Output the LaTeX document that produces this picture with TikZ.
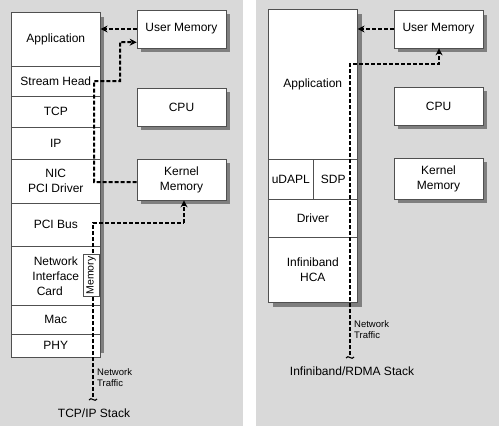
\documentclass[tikz,border=0pt]{standalone}
\usepackage{fontspec}
\setmainfont{Liberation Sans}
\usetikzlibrary{calc,arrows.meta}
\definecolor{panelc}{HTML}{D9D9D9}
\definecolor{shadc}{HTML}{7F7F7F}
\definecolor{edgec}{HTML}{505050}
\tikzset{
  row/.style={draw=edgec, fill=white, line width=0.6pt, inner sep=0pt, anchor=north west,
    minimum width=89pt, align=center, font=\fontsize{12}{15}\selectfont},
  box/.style={row, anchor=center},
  conn/.style={draw=black, line width=2pt, dash pattern=on 4pt off 2pt,
    -{Stealth[length=7pt,width=7pt]}},
  squig/.style={draw=black, line width=1.1pt},
  small/.style={font=\fontsize{9.5}{11.5}\selectfont, align=left, inner sep=0pt},
  caption/.style={font=\fontsize{12}{14}\selectfont, inner sep=0pt}
}
\begin{document}
\begin{tikzpicture}[x=1pt,y=-1pt]
\useasboundingbox (0,0) rectangle (500,426);
% panels
\fill[panelc] (0,0) rectangle (243,426);
\fill[panelc] (256,0) rectangle (499,426);

% ---------- left panel ----------
\fill[shadc] (15,17) rectangle (104,353);
\node[row, minimum height=54pt] (lapp) at (11,12) {Application};
\node[row, minimum height=30pt] (lsh) at (11,66) {Stream Head};
\node[row, minimum height=31pt] (ltcp) at (11,96) {TCP};
\node[row, minimum height=32pt] (lip) at (11,127) {IP};
\node[row, minimum height=44pt] (lnic) at (11,159) {NIC\\PCI Driver};
\node[row, minimum height=43pt] (lpci) at (11,203) {PCI Bus};
\node[row, minimum height=59pt] (lcard) at (11,246) {Network\\Interface\\Card\hspace*{12pt}};
\node[row, minimum height=29pt] (lmac) at (11,305) {Mac};
\node[row, minimum height=23pt] (lphy) at (11,334) {PHY};

\fill[shadc] (141,14) rectangle (230,52);
\node[box, minimum height=38pt] (lum) at (181.5,29) {User Memory};
\fill[shadc] (141,92) rectangle (230,130);
\node[box, minimum height=38pt] (lcpu) at (181.5,107) {CPU};
\fill[shadc] (141,163) rectangle (230,204);
\node[box, minimum height=41pt] (lkm) at (181.5,179.5) {Kernel\\Memory};

% connectors left
\draw[conn] (lum.west) -- (lum.west -| lapp.east);
\draw[conn] ($(lkm.west)+(0,2.5)$) -- (94,182) -- (94,81) -- (120,81) -- (120,42) -- ($(lum.south west)+(0,-6)$);
\coordinate (lnet) at (93,397);
\draw[conn, -] (lnet) -- (93,223) -- (184,223);
\draw[conn] (184,223) -- ($(lkm.south)+(2.5,0)$);
\draw[squig] (89,400) .. controls (91,396) and (95,403) .. (97,399);

\node[row, anchor=center, minimum width=42pt, minimum height=16pt, rotate=90,
  font=\fontsize{10.5}{12}\selectfont] (lmem) at (91,275.5) {Memory};

\node[small, anchor=north west] (lnt) at (97,368) {Network\\Traffic};
\node[caption] (ltitle) at (94,413) {TCP/IP Stack};

% ---------- right panel ----------
\fill[shadc] (273,14) rectangle (362,307);
\node[row, minimum height=150pt] (rapp) at (268,9) {Application};
\node[row, minimum width=45pt, minimum height=40pt] (rudapl) at (268,159) {uDAPL};
\node[row, minimum width=44pt, minimum height=40pt] (rsdp) at (313,159) {SDP\hspace*{4pt}};
\node[row, minimum height=38pt] (rdrv) at (268,199) {Driver};
\node[row, minimum height=65pt] (rhca) at (268,237) {Infiniband\\HCA};

\fill[shadc] (398,15) rectangle (487,52);
\node[box, minimum height=38pt] (rum) at (438.5,29) {User Memory};
\fill[shadc] (398,91) rectangle (487,129);
\node[box, minimum height=38pt] (rcpu) at (438.5,106) {CPU};
\fill[shadc] (398,162) rectangle (487,203);
\node[box, minimum height=41pt] (rkm) at (438.5,178.5) {Kernel\\Memory};

% connectors right
\draw[conn] (rum.west) -- (rum.west -| rapp.east);
\coordinate (rnet) at (350,355);
\draw[conn] (rnet) -- (350,64) -- (439,64) -- (rum.south -| 439,0);
\draw[squig] (346,358) .. controls (348,354) and (352,361) .. (354,357);

\node[small, anchor=north west] (rnt) at (354,320) {Network\\Traffic};
\node[caption] (rtitle) at (352,371) {Infiniband/RDMA Stack};
\end{tikzpicture}
\end{document}
